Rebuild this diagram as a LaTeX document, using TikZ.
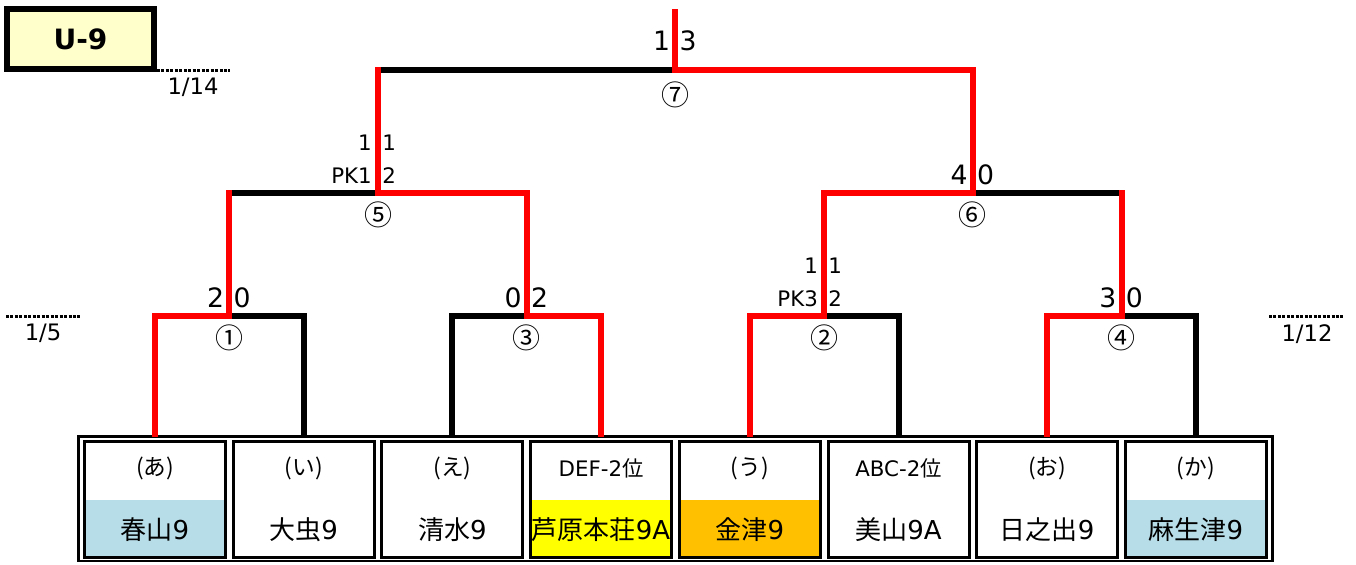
\documentclass[tikz,border=0pt]{standalone}
\usepackage{fontspec}
\setmainfont{DejaVu Sans}
\newfontfamily\jp{Noto Sans CJK JP}
\definecolor{lblue}{HTML}{B7DDE8}
\definecolor{ylw}{HTML}{FFFF00}
\definecolor{org}{HTML}{FFC000}
\definecolor{cream}{HTML}{FFFFCC}
\definecolor{wred}{HTML}{FF0000}
\begin{document}
\begin{tikzpicture}[x=0.75pt,y=-0.75pt,
  lose/.style={draw=black,line width=4.5pt,line cap=rect,line join=miter},
  win/.style={lose,draw=wred},
  team/.style={draw,line width=2.25pt,minimum width=105.75pt,minimum height=87pt,inner sep=0pt,outer sep=0pt},
  sc/.style={inner sep=0pt,font=\fontsize{20}{22}\selectfont},
  pk/.style={inner sep=0pt,font=\fontsize{16}{18}\selectfont},
  no/.style={inner sep=0pt,font=\jp\fontsize{21}{22}\selectfont},
  lbl/.style={inner sep=0pt,font=\fontsize{16}{18}\selectfont},
  nm/.style={inner sep=0pt,font=\fontsize{19.5}{21}\selectfont},
  dt/.style={inner sep=0pt,font=\fontsize{17}{19}\selectfont},
  dots/.style={line width=2.25pt,dash pattern=on 2.25pt off 1.1pt}
]
\useasboundingbox (0,0) rectangle (1356,564);

% title
\node[draw,line width=4.5pt,fill=cream,minimum width=110.25pt,minimum height=45pt,
  inner sep=0pt,outer sep=0pt,font=\bfseries\fontsize{21}{23}\selectfont] (u9) at (80.5,39) {U-9};

% outer frame
\node[draw,line width=1.9pt,minimum width=895.5pt,minimum height=93.4pt,inner sep=0pt,outer sep=0pt] (frame) at (675.5,498.75) {};

% teams
\foreach \i/\lab/\nm/\col in {
 1/{\jp\fontsize{17}{18}\selectfont (あ)}/{{\jp 春山}9}/lblue,
 2/{\jp\fontsize{17}{18}\selectfont (い)}/{{\jp 大虫}9}/white,
 3/{\jp\fontsize{17}{18}\selectfont (え)}/{{\jp 清水}9}/white,
 4/{DEF-2{\jp 位}}/{{\jp 芦原本荘}9A}/ylw,
 5/{\jp\fontsize{17}{18}\selectfont (う)}/{{\jp 金津}9}/org,
 6/{ABC-2{\jp 位}}/{{\jp 美山}9A}/white,
 7/{\jp\fontsize{17}{18}\selectfont (お)}/{{\jp 日之出}9}/white,
 8/{\jp\fontsize{17}{18}\selectfont (か)}/{{\jp 麻生津}9}/lblue}{
 \pgfmathsetmacro\cx{155+148.7*(\i-1)}
 \node[team] (t\i) at (\cx,499.5) {};
 \fill[\col] ([xshift=1.125pt]t\i.west) rectangle ([xshift=-1.125pt,yshift=1.125pt]t\i.south east);
 \node[lbl] (l\i) at ([yshift=-19.9pt]t\i.north) {\lab};
 \node[nm] (n\i) at ([yshift=20.6pt]t\i.south) {\nm};
 \coordinate (p\i) at (\cx,433.5);
}

% match points
\coordinate (m1) at (229.35,316);
\coordinate (m3) at (526.75,316);
\coordinate (m2) at (824.15,316);
\coordinate (m4) at (1121.55,316);
\coordinate (m5) at (378.05,193);
\coordinate (m6) at (972.85,193);
\coordinate (m7) at (675.45,70);
\coordinate (top) at (675.45,12);

% losing lines
\draw[lose] (p2) |- (m1);
\draw[lose] (p3) |- (m3);
\draw[lose] (p6) |- (m2);
\draw[lose] (p8) |- (m4);
\draw[lose] (m1 |- m5) -- (m5);
\draw[lose] (m4 |- m6) -- (m6);
\draw[lose] (m5 |- m7) -- (m7);

% winning lines
\draw[win] (p1) |- (m1) -- (m1 |- m5);
\draw[win] (p4) |- (m3) -- (m3 |- m5) -- (m5) -- (m5 |- m7);
\draw[win] (p5) |- (m2) -- (m2 |- m6) -- (m6) -- (m6 |- m7) -- (m7) -- (top);
\draw[win] (p7) |- (m4) -- (m4 |- m6);

% scores
\node[sc,anchor=base east] (s1a) at ([xshift=-3.75pt,yshift=6.75pt]m1) {2};
\node[sc,anchor=base west] (s1b) at ([xshift=3pt,yshift=6.75pt]m1) {0};
\node[sc,anchor=base east] (s3a) at ([xshift=-3.75pt,yshift=6.75pt]m3) {0};
\node[sc,anchor=base west] (s3b) at ([xshift=3pt,yshift=6.75pt]m3) {2};
\node[sc,anchor=base east] (s4a) at ([xshift=-3.75pt,yshift=6.75pt]m4) {3};
\node[sc,anchor=base west] (s4b) at ([xshift=3pt,yshift=6.75pt]m4) {0};
\node[sc,anchor=base east] (s6a) at ([xshift=-3.75pt,yshift=6.75pt]m6) {4};
\node[sc,anchor=base west] (s6b) at ([xshift=3pt,yshift=6.75pt]m6) {0};
\node[sc,anchor=base east] (s7a) at ([xshift=-3.75pt,yshift=15pt]m7) {1};
\node[sc,anchor=base west] (s7b) at ([xshift=3pt,yshift=15pt]m7) {3};
% PK scores
\node[pk,anchor=base east] (s5a) at ([xshift=-4.5pt,yshift=32.25pt]m5) {1};
\node[pk,anchor=base west] (s5b) at ([xshift=3pt,yshift=32.25pt]m5) {1};
\node[pk,anchor=base east] (s5c) at ([xshift=-4.5pt,yshift=7.5pt]m5) {PK1};
\node[pk,anchor=base west] (s5d) at ([xshift=3pt,yshift=7.5pt]m5) {2};
\node[pk,anchor=base east] (s2a) at ([xshift=-4.5pt,yshift=32.25pt]m2) {1};
\node[pk,anchor=base west] (s2b) at ([xshift=3pt,yshift=32.25pt]m2) {1};
\node[pk,anchor=base east] (s2c) at ([xshift=-4.5pt,yshift=7.5pt]m2) {PK3};
\node[pk,anchor=base west] (s2d) at ([xshift=3pt,yshift=7.5pt]m2) {2};

% match numbers
\node[no] (c1) at ([yshift=-16.5pt]m1) {①};
\node[no] (c2) at ([yshift=-16.5pt]m2) {②};
\node[no] (c3) at ([yshift=-16.5pt]m3) {③};
\node[no] (c4) at ([yshift=-16.5pt]m4) {④};
\node[no] (c5) at ([yshift=-16.5pt]m5) {⑤};
\node[no] (c6) at ([yshift=-16.5pt]m6) {⑥};
\node[no] (c7) at ([yshift=-18.75pt]m7) {⑦};

% dates
\coordinate (da) at (157,70);
\coordinate (db) at (230,70);
\coordinate (dc) at (6,316);
\coordinate (dd) at (81,316);
\coordinate (de) at (1269,316);
\coordinate (df) at (1344,316);
\draw[dots] (da) -- (db);
\draw[dots] (dc) -- (dd);
\draw[dots] (de) -- (df);
\node[dt] (d14) at (193,87) {1/14};
\node[dt] (d5) at (43,333) {1/5};
\node[dt] (d12) at (1307,334) {1/12};
\end{tikzpicture}
\end{document}
